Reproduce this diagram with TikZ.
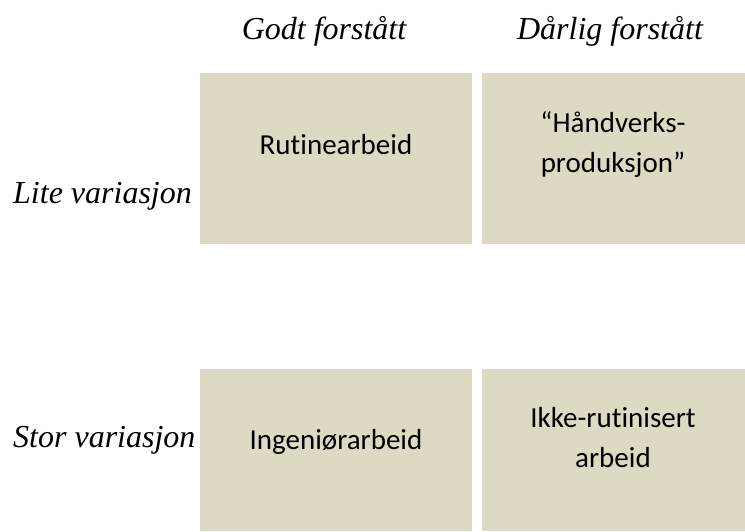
\documentclass[tikz,border=0pt]{standalone}
\usepackage{fontspec}
\setmainfont{Liberation Serif}
\newfontfamily\boxfont[Ligatures=NoCommon]{Carlito}
\definecolor{cellfill}{HTML}{DDD9C3}
\begin{document}
\begin{tikzpicture}[x=1pt,y=-1pt,
  cell/.style={fill=cellfill,draw=none,inner sep=0pt,anchor=north west},
  celltext/.style={font=\boxfont\fontsize{29}{40}\selectfont,align=center,inner sep=0pt,anchor=base},
  axislabel/.style={font=\fontsize{32}{38}\selectfont\itshape,inner sep=0pt}]
\useasboundingbox[fill=white] (0,0) rectangle (745,531);
% cells
\node[cell,minimum width=272pt,minimum height=171pt] (c11) at (200,73) {};
\node[cell,minimum width=263pt,minimum height=171pt] (c12) at (482,73) {};
\node[cell,minimum width=272pt,minimum height=162pt] (c21) at (200,369) {};
\node[cell,minimum width=263pt,minimum height=162pt] (c22) at (482,369) {};
% cell texts (base = baseline of last line)
\node[celltext] (t11) at (336,154) {Rutinearbeid};
\node[celltext] (t12) at (613,172) {“Håndverks-\\produksjon”};
\node[celltext] (t21) at (336,449) {Ingeniørarbeid};
\node[celltext] (t22) at (613,467) {Ikke-rutinisert\\arbeid};
% headers
\node[axislabel,anchor=base] (h1) at (324,39) {Godt forstått};
\node[axislabel,anchor=base] (h2) at (610,39) {Dårlig forstått};
% row labels
\node[axislabel,anchor=base west] (r1) at (13,203) {Lite variasjon};
\node[axislabel,anchor=base west] (r2) at (13,447) {Stor variasjon};
\end{tikzpicture}
\end{document}
